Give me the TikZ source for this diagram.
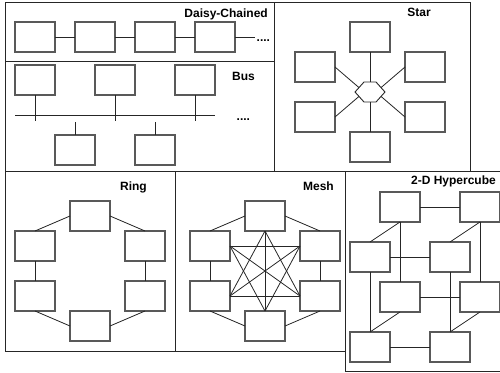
\documentclass[tikz,border=0pt]{standalone}
\usepackage{fontspec}
\setmainfont{Liberation Sans}
\begin{document}
\begin{tikzpicture}[x=1pt, y=-1pt,
  panel/.style={draw=black!85, line width=1pt},
  unit/.style={draw=black!65, line width=1.1pt, minimum width=40pt,
    minimum height=30pt, inner sep=0pt, outer sep=0pt},
  link/.style={draw=black!85, line width=0.8pt},
  title/.style={font=\bfseries\fontsize{12}{14}\selectfont, inner sep=0pt,
    anchor=base east},
  more/.style={font=\bfseries\fontsize{12}{14}\selectfont, inner sep=0pt,
    anchor=base west}]
\useasboundingbox (0,0) rectangle (500,372);

% ---------- panels ----------
\draw[panel] (5,2) rectangle (274,61.5);
\draw[panel] (5,61.5) rectangle (274,171.5);
\draw[panel] (274,2) rectangle (470,171.5);
\draw[panel] (5,171.5) rectangle (175,351);
\draw[panel] (175,171.5) rectangle (345,351);
\draw[panel] (345,171.5) rectangle (503,371.5);

% ---------- daisy chain ----------
\node[title] (tdaisy) at (268,17) {Daisy-Chained};
\node[unit] (d1) at (35,37) {};
\node[unit] (d2) at (95,37) {};
\node[unit] (d3) at (155,37) {};
\node[unit] (d4) at (215,37) {};
\coordinate (dend) at (255,37);
\draw[link] (d1.east) -- (d2.west);
\draw[link] (d2.east) -- (d3.west);
\draw[link] (d3.east) -- (d4.west);
\draw[link] (d4.east) -- (dend);
\node[more] (ddots) at (256.5,41) {....};

% ---------- bus ----------
\node[title] (tbus) at (255,80) {Bus};
\node[unit] (bt1) at (35,80) {};
\node[unit] (bt2) at (115,80) {};
\node[unit] (bt3) at (195,80) {};
\node[unit] (bb1) at (75,150) {};
\node[unit] (bb2) at (155,150) {};
\coordinate (busL) at (15,115.7);
\coordinate (busR) at (215,115.7);
\coordinate (drop) at (0,121);
\coordinate (stub) at (0,121.7);
\draw[link] (busL) -- (busR);
\foreach \b in {bt1,bt2,bt3} \draw[link] (\b.south) -- (\b.south |- drop);
\foreach \b in {bb1,bb2} \draw[link] (\b.north) -- (\b.north |- stub);
\node[more] (bdots) at (236.5,120) {....};

% ---------- star ----------
\node[title] (tstar) at (431,16.5) {Star};
\node[unit] (st) at (370,37) {};
\node[unit] (sul) at (315,67) {};
\node[unit] (sur) at (425,67) {};
\node[unit] (sll) at (315,117) {};
\node[unit] (slr) at (425,117) {};
\node[unit] (sb) at (370,147) {};
\coordinate (h1) at (355,92);
\coordinate (h2) at (364,82);
\coordinate (h3) at (376,82);
\coordinate (h4) at (385,92);
\coordinate (h5) at (376,102);
\coordinate (h6) at (364,102);
\draw[draw=black!85, line width=0.9pt] (h1) -- (h2) -- (h3) -- (h4) -- (h5) -- (h6) -- cycle;
\coordinate (hn) at (370,82);
\coordinate (hs) at (370,102);
\coordinate (hnw) at (359,87.6);
\coordinate (hne) at (381,87.6);
\coordinate (hsw) at (359,96.4);
\coordinate (hse) at (381,96.4);
\draw[link] (st.south) -- (hn);
\draw[link] (sb.north) -- (hs);
\draw[link] (sul.east) -- (hnw);
\draw[link] (sur.west) -- (hne);
\draw[link] (sll.east) -- (hsw);
\draw[link] (slr.west) -- (hse);

% ---------- ring ----------
\node[title] (tring) at (147,190) {Ring};
\node[unit] (rt) at (90,216) {};
\node[unit] (rul) at (35,246) {};
\node[unit] (rur) at (145,246) {};
\node[unit] (rll) at (35,296) {};
\node[unit] (rlr) at (145,296) {};
\node[unit] (rb) at (90,326) {};
\draw[link] (rt.west) -- (rul.north);
\draw[link] (rt.east) -- (rur.north);
\draw[link] (rul.south) -- (rll.north);
\draw[link] (rur.south) -- (rlr.north);
\draw[link] (rll.south) -- (rb.west);
\draw[link] (rlr.south) -- (rb.east);

% ---------- mesh ----------
\node[title] (tmesh) at (334,190) {Mesh};
\node[unit] (mt) at (265,216) {};
\node[unit] (mul) at (210,246) {};
\node[unit] (mur) at (320,246) {};
\node[unit] (mll) at (210,296) {};
\node[unit] (mlr) at (320,296) {};
\node[unit] (mb) at (265,326) {};
\draw[link] (mt.west) -- (mul.north);
\draw[link] (mt.east) -- (mur.north);
\draw[link] (mul.south) -- (mll.north);
\draw[link] (mur.south) -- (mlr.north);
\draw[link] (mll.south) -- (mb.west);
\draw[link] (mlr.south) -- (mb.east);
\draw[link] (mul.east) -- (mur.west);
\draw[link] (mll.east) -- (mlr.west);
\draw[link] (mt.south) -- (mb.north);
\draw[link] (mul.east) -- (mlr.west);
\draw[link] (mur.west) -- (mll.east);
\draw[link] (mt.south) -- (mll.east);
\draw[link] (mt.south) -- (mlr.west);
\draw[link] (mb.north) -- (mul.east);
\draw[link] (mb.north) -- (mur.west);

% ---------- 2-D hypercube ----------
\node[title] (tcube) at (496,184) {2-D Hypercube};
\node[unit] (btl) at (400,207) {};
\node[unit] (btr) at (480,207) {};
\node[unit] (ftl) at (370,257) {};
\node[unit] (ftr) at (450,257) {};
\node[unit] (bbl) at (400,297) {};
\node[unit] (bbr) at (480,297) {};
\node[unit] (fbl) at (370,347) {};
\node[unit] (fbr) at (450,347) {};
\draw[link] (btl.east) -- (btr.west);
\draw[link] (ftl.east) -- (ftr.west);
\draw[link] (bbl.east) -- (bbr.west);
\draw[link] (fbl.east) -- (fbr.west);
\draw[link] (btl.south) -- (bbl.north);
\draw[link] (btr.south) -- (bbr.north);
\draw[link] (ftl.south) -- (fbl.north);
\draw[link] (ftr.south) -- (fbr.north);
\draw[link] (btl.south) -- (ftl.north);
\draw[link] (btr.south) -- (ftr.north);
\draw[link] (bbl.south) -- (fbl.north);
\draw[link] (bbr.south) -- (fbr.north);
\end{tikzpicture}
\end{document}
